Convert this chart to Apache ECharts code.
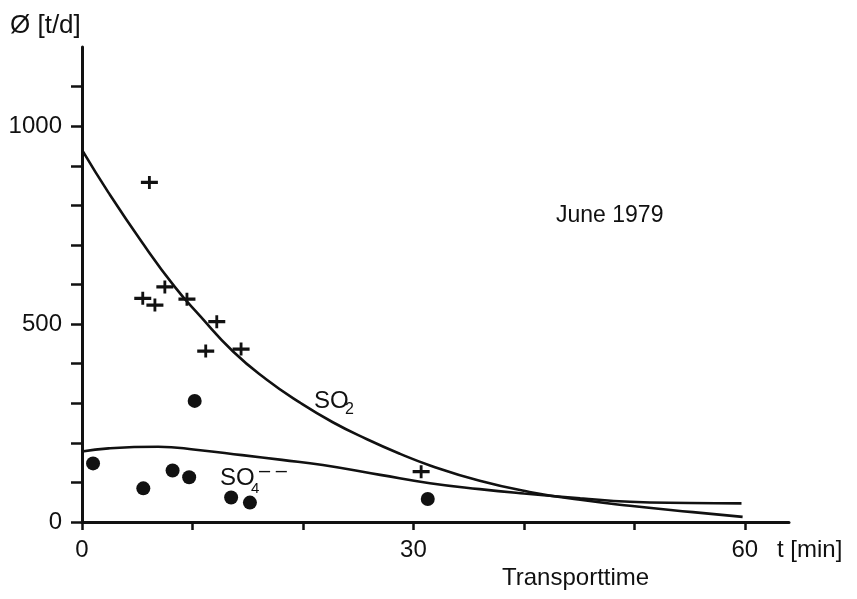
<!DOCTYPE html>
<html><head><meta charset="utf-8">
<script src="https://cdn.jsdelivr.net/npm/echarts@6/dist/echarts.min.js"></script>
<style>html,body{margin:0;padding:0;background:#fff}#c{width:857px;height:599px}</style>
</head><body><div id="c"></div>
<script>
// SO2 fitted curve (transport time in min, flux in t/d)
const so2CurveTime = [0, 2.4, 5.4, 8.4, 10.7, 13.7, 16.7, 19.7, 22.7, 25.8, 28.8, 31.5, 36.0, 40.5, 45.1, 49.6, 55.3, 59.8];
const so2CurveFlux = [940, 832, 708, 594, 520, 430, 360, 302, 252, 209, 172, 143, 104, 76, 56, 41, 25, 13];
// SO4-- fitted curve
const so4CurveTime = [0, 2.4, 6.9, 10.5, 14.5, 18.1, 21.8, 27.0, 31.5, 36.0, 40.0, 45.1, 49.6, 55.0, 59.7];
const so4CurveFlux = [178, 186, 190, 182, 169, 157, 144, 119, 98, 83, 72, 60, 51, 48, 47];
// SO2 measurements (+)
const so2PointTime = [6.1, 5.5, 6.6, 7.5, 9.5, 12.2, 11.2, 14.4, 30.7];
const so2PointFlux = [858, 565, 548, 594, 563, 506, 432, 437, 127];
// SO4-- measurements (dots)
const so4PointTime = [1.0, 5.55, 8.2, 9.7, 10.2, 13.5, 15.2, 31.3];
const so4PointFlux = [148, 85, 130, 113, 306, 62, 49, 58];
// ticks and labels
const xTickValues = [0, 10, 20, 30, 40, 50, 60];
const xLabelValues = [0, 30, 60];
const yTickValues = [0, 100, 200, 300, 400, 500, 600, 700, 800, 900, 1000, 1100];
const yLabelValues = [0, 500, 1000];

const zip = (a, b) => a.map((v, i) => [v, b[i]]);
const FONT = "'Liberation Sans', Arial, sans-serif";
const INK = '#111';
const plusPath = 'path://M0,4.5H18V7.5H0Z M7.5,0H10.5V12H7.5Z';

const chart = echarts.init(document.getElementById('c'), null, {renderer: 'canvas'});
chart.setOption({
  animation: false,
  backgroundColor: '#fff',
  grid: {left: 82, right: 68, top: 47, bottom: 77, containLabel: false},
  xAxis: {
    type: 'value', min: 0, max: 64,
    axisLine: {show: true, lineStyle: {color: INK, width: 3}},
    axisTick: {show: true, customValues: xTickValues, length: 8, lineStyle: {color: INK, width: 2.5}},
    axisLabel: {show: true, customValues: xLabelValues, fontSize: 24, color: INK, fontFamily: FONT, margin: 16,
      formatter: v => String(v)},
    splitLine: {show: false}
  },
  yAxis: {
    type: 'value', min: 0, max: 1200,
    axisLine: {show: true, lineStyle: {color: INK, width: 3}},
    axisTick: {show: true, customValues: yTickValues, length: 11, lineStyle: {color: INK, width: 2.5}},
    axisLabel: {show: true, customValues: yLabelValues, fontSize: 24, color: INK, fontFamily: FONT, margin: 20,
      padding: [8, 0, 0, 0], formatter: v => String(v)},
    splitLine: {show: false}
  },
  graphic: [
    {type: 'text', left: 10, top: 13, style: {text: 'Ø [t/d]', fontSize: 26, fill: INK, fontFamily: FONT}},
    {type: 'text', left: 556, top: 204, style: {text: 'June 1979', fontSize: 23, fill: INK, fontFamily: FONT}},
    {type: 'text', left: 502, top: 566, style: {text: 'Transporttime', fontSize: 24, fill: INK, fontFamily: FONT}},
    {type: 'text', left: 777, top: 538, style: {text: 't [min]', fontSize: 24, fill: INK, fontFamily: FONT}},
    {type: 'text', left: 314, top: 389, style: {text: 'SO', fontSize: 24, fill: INK, fontFamily: FONT}},
    {type: 'text', left: 345, top: 402, style: {text: '2', fontSize: 16, fill: INK, fontFamily: FONT}},
    {type: 'text', left: 220, top: 466, style: {text: 'SO', fontSize: 24, fill: INK, fontFamily: FONT}},
    {type: 'text', left: 251, top: 481, style: {text: '4', fontSize: 15, fill: INK, fontFamily: FONT}},
    {type: 'text', left: 259, top: 461, style: {text: '– –', fontSize: 20, fill: INK, fontFamily: FONT}}
  ],
  series: [
    {type: 'line', data: zip(so2CurveTime, so2CurveFlux), smooth: 0.5, symbol: 'none',
     lineStyle: {color: INK, width: 2.6}, z: 2},
    {type: 'line', data: zip(so4CurveTime, so4CurveFlux), smooth: 0.5, symbol: 'none',
     lineStyle: {color: INK, width: 2.6}, z: 2},
    {type: 'scatter', data: zip(so2PointTime, so2PointFlux), symbol: plusPath, symbolSize: [17, 13],
     itemStyle: {color: INK, opacity: 1}, z: 3},
    {type: 'scatter', data: zip(so4PointTime, so4PointFlux), symbol: 'circle', symbolSize: 14,
     itemStyle: {color: INK, opacity: 1}, z: 3}
  ]
});
</script></body></html>
